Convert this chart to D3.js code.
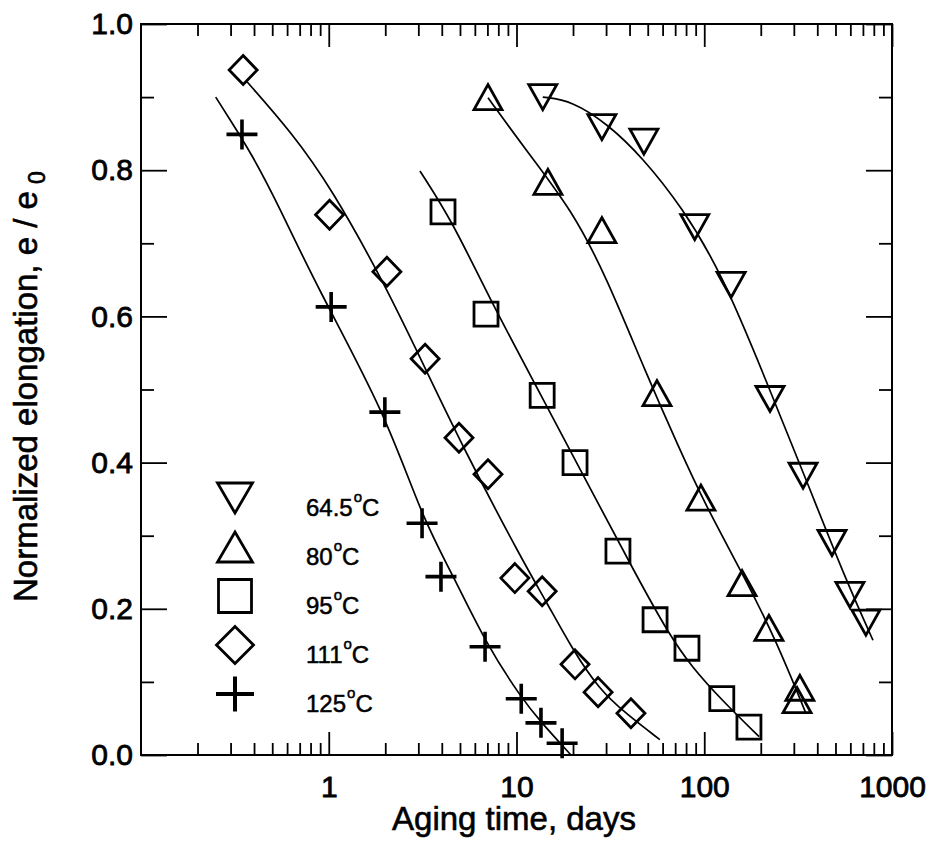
<!DOCTYPE html>
<html>
<head>
<meta charset="utf-8">
<script src="https://cdn.jsdelivr.net/npm/d3@7"></script>
<style>
  body { margin: 0; background: #fff; }
  text { font-family: Arial, "Liberation Sans", sans-serif; fill: #000; }
</style>
</head>
<body>
<div id="chart"></div>
<script>
// measured points, [days, e/e0]
var pts645 = [[13.8,0.90],[28.5,0.859],[47.7,0.839],[89,0.722],[139,0.643],[224,0.487],[336,0.382],[479,0.29],[597,0.219],[726,0.181]];
var pts80  = [[7.05,0.90],[14.7,0.784],[28.5,0.718],[56,0.495],[96,0.352],[159,0.235],[221,0.174],[323,0.092],[312,0.075]];
var pts95  = [[4.06,0.743],[6.88,0.603],[13.7,0.492],[20.5,0.40],[34.7,0.279],[54.7,0.185],[80.9,0.146],[124,0.077],[173,0.038]];
var pts111 = [[0.35,0.937],[1.01,0.739],[2.04,0.661],[3.26,0.542],[4.94,0.434],[7.05,0.384],[9.8,0.242],[13.7,0.224],[20.5,0.124],[27.2,0.086],[40.7,0.057]];
var pts125 = [[0.345,0.849],[1.03,0.613],[1.99,0.469],[3.14,0.317],[3.96,0.244],[6.8,0.148],[10.6,0.077],[13.5,0.044],[17.5,0.016]];

// fitted curves
var fit645 = [[13.8,0.90],[19.8,0.895],[31,0.862],[46.6,0.818],[76,0.75],[124,0.659],[213,0.513],[361,0.367],[569,0.239],[792,0.157]];
var fit80  = [[7.05,0.899],[11.2,0.828],[19.8,0.745],[30,0.655],[49,0.522],[73.4,0.42],[100,0.345],[167,0.239],[241,0.157],[348,0.057]];
var fit95  = [[3.06,0.799],[4.53,0.731],[7.1,0.627],[12.7,0.505],[21.5,0.394],[43.9,0.2435],[64.9,0.165],[86,0.12],[124,0.075],[196,0.025]];
var fit111 = [[0.367,0.921],[0.637,0.851],[1.03,0.776],[2.0,0.643],[3.29,0.527],[5.38,0.413],[10.7,0.267],[14.4,0.21],[19.8,0.145],[27.5,0.09],[38.1,0.057],[58,0.021]];
var fit125 = [[0.25,0.90],[0.305,0.865],[0.39,0.821],[0.524,0.759],[0.866,0.64],[1.99,0.469],[3.14,0.325],[4.64,0.2435],[6.8,0.155],[10.6,0.078],[13.5,0.045],[19.5,0.0]];

var legendLabels = ["64.5", "80", "95", "111", "125"];
var xMajorTicks = [1, 10, 100, 1000];
var yMajorTicks = [0, 0.2, 0.4, 0.6, 0.8, 1.0];

var width = 933, height = 843;
var margin = {top: 24, right: 41, bottom: 88, left: 141};
var plotW = width - margin.left - margin.right,
    plotH = height - margin.top - margin.bottom;

var svg = d3.select("#chart").append("svg")
  .attr("width", width)
  .attr("height", height);

svg.append("rect").attr("width", width).attr("height", height).attr("fill", "#fff");

var g = svg.append("g").attr("transform", "translate(" + margin.left + "," + margin.top + ")");

var x = d3.scaleLog().domain([0.1, 1000]).range([0, plotW]);
var y = d3.scaleLinear().domain([0, 1]).range([plotH, 0]);

var xMinor = x.ticks().filter(function(d){ return Math.abs(Math.log10(d) - Math.round(Math.log10(d))) > 1e-6; });
var yMinor = y.ticks(10).filter(function(d){ return Math.round(d * 10) % 2 === 1; });

function styleAxis(sel) {
  sel.select(".domain").remove();
  sel.selectAll("line").attr("stroke", "#000").attr("stroke-width", 1.8);
  sel.selectAll("text").attr("font-size", 30).attr("fill", "#000")
    .attr("stroke", "#000").attr("stroke-width", 0.8)
    .attr("font-family", "Arial, 'Liberation Sans', sans-serif");
}

// bottom
g.append("g").attr("transform", "translate(0," + plotH + ")")
  .call(d3.axisBottom(x).tickValues(xMajorTicks).tickSize(-23).tickPadding(21).tickFormat(d3.format("d")))
  .call(styleAxis);
g.append("g").attr("transform", "translate(0," + plotH + ")")
  .call(d3.axisBottom(x).tickValues(xMinor).tickSize(-12).tickFormat(""))
  .call(styleAxis);
// top
g.append("g")
  .call(d3.axisTop(x).tickValues(xMajorTicks).tickSize(-23).tickFormat(""))
  .call(styleAxis);
g.append("g")
  .call(d3.axisTop(x).tickValues(xMinor).tickSize(-12).tickFormat(""))
  .call(styleAxis);
// left
g.append("g")
  .call(d3.axisLeft(y).tickValues(yMajorTicks).tickSize(-26).tickPadding(8).tickFormat(d3.format(".1f")))
  .call(styleAxis);
g.append("g")
  .call(d3.axisLeft(y).tickValues(yMinor).tickSize(-13).tickFormat(""))
  .call(styleAxis);
// right
g.append("g").attr("transform", "translate(" + plotW + ",0)")
  .call(d3.axisRight(y).tickValues(yMajorTicks).tickSize(-26).tickFormat(""))
  .call(styleAxis);
g.append("g").attr("transform", "translate(" + plotW + ",0)")
  .call(d3.axisRight(y).tickValues(yMinor).tickSize(-13).tickFormat(""))
  .call(styleAxis);

g.append("rect")
  .attr("width", plotW).attr("height", plotH)
  .attr("fill", "none").attr("stroke", "#000").attr("stroke-width", 2);

// marker shapes
function downTri(w, h) {
  return function(cx, cy) {
    return "M" + (cx - w/2) + "," + (cy - h/2) + "L" + (cx + w/2) + "," + (cy - h/2) + "L" + cx + "," + (cy + h/2) + "Z";
  };
}
function upTri(w, h) {
  return function(cx, cy) {
    return "M" + (cx - w/2) + "," + (cy + h/2) + "L" + (cx + w/2) + "," + (cy + h/2) + "L" + cx + "," + (cy - h/2) + "Z";
  };
}
function square(s) {
  return function(cx, cy) {
    return "M" + (cx - s/2) + "," + (cy - s/2) + "h" + s + "v" + s + "h" + (-s) + "Z";
  };
}
function diamond(w, h) {
  return function(cx, cy) {
    return "M" + cx + "," + (cy - h/2) + "L" + (cx + w/2) + "," + cy + "L" + cx + "," + (cy + h/2) + "L" + (cx - w/2) + "," + cy + "Z";
  };
}
function plus(w, h) {
  return function(cx, cy) {
    return "M" + (cx - w/2) + "," + cy + "h" + w + "M" + cx + "," + (cy - h/2) + "v" + h;
  };
}

var series = [
  {pts: pts645, fit: fit645, shape: downTri(28, 25), legendShape: downTri(35, 30), sw: 2.8, lsw: 2.8},
  {pts: pts80,  fit: fit80,  shape: upTri(28, 25),   legendShape: upTri(35, 30),   sw: 2.8, lsw: 2.8},
  {pts: pts95,  fit: fit95,  shape: square(24),      legendShape: square(33),      sw: 2.8, lsw: 2.8},
  {pts: pts111, fit: fit111, shape: diamond(28, 29), legendShape: diamond(37, 37), sw: 2.8, lsw: 2.8},
  {pts: pts125, fit: fit125, shape: plus(31, 30),    legendShape: plus(38, 35),    sw: 3.6, lsw: 4}
];

var line = d3.line()
  .x(function(d){ return x(d[0]); })
  .y(function(d){ return y(d[1]); })
  .curve(d3.curveBasis);

series.forEach(function(s) {
  g.append("path")
    .attr("d", line(s.fit))
    .attr("fill", "none")
    .attr("stroke", "#000")
    .attr("stroke-width", 1.7);

  g.selectAll(null)
    .data(s.pts)
    .enter().append("path")
    .attr("d", function(d){ return s.shape(x(d[0]), y(d[1])); })
    .attr("fill", "none")
    .attr("stroke", "#000")
    .attr("stroke-width", s.sw);
});

// legend
var legend = svg.append("g").attr("transform", "translate(235,498)");
series.forEach(function(s, i) {
  var ly = i * 49;
  legend.append("path")
    .attr("d", s.legendShape(0, ly))
    .attr("fill", "none")
    .attr("stroke", "#000")
    .attr("stroke-width", s.lsw);
  var t = legend.append("text")
    .attr("x", 71)
    .attr("y", ly + 18)
    .attr("font-size", 24)
    .attr("stroke", "#000")
    .attr("stroke-width", 0.5);
  t.append("tspan").text(legendLabels[i]);
  t.append("tspan").attr("font-size", 15).attr("dy", -14).attr("dx", 1).text("o");
  t.append("tspan").attr("dy", 14).text("C");
});

// axis titles
svg.append("text")
  .attr("x", 514)
  .attr("y", 830)
  .attr("text-anchor", "middle")
  .attr("font-size", 33)
  .attr("stroke", "#000")
  .attr("stroke-width", 0.6)
  .text("Aging time, days");

var yl = svg.append("text")
  .attr("transform", "translate(37,602) rotate(-90)")
  .attr("font-size", 33)
  .attr("stroke", "#000")
  .attr("stroke-width", 0.6);
yl.append("tspan").text("Normalized elongation, e / e");
yl.append("tspan").attr("dx", 7).attr("dy", 8).attr("font-size", 23).text("0");
</script>
</body>
</html>
